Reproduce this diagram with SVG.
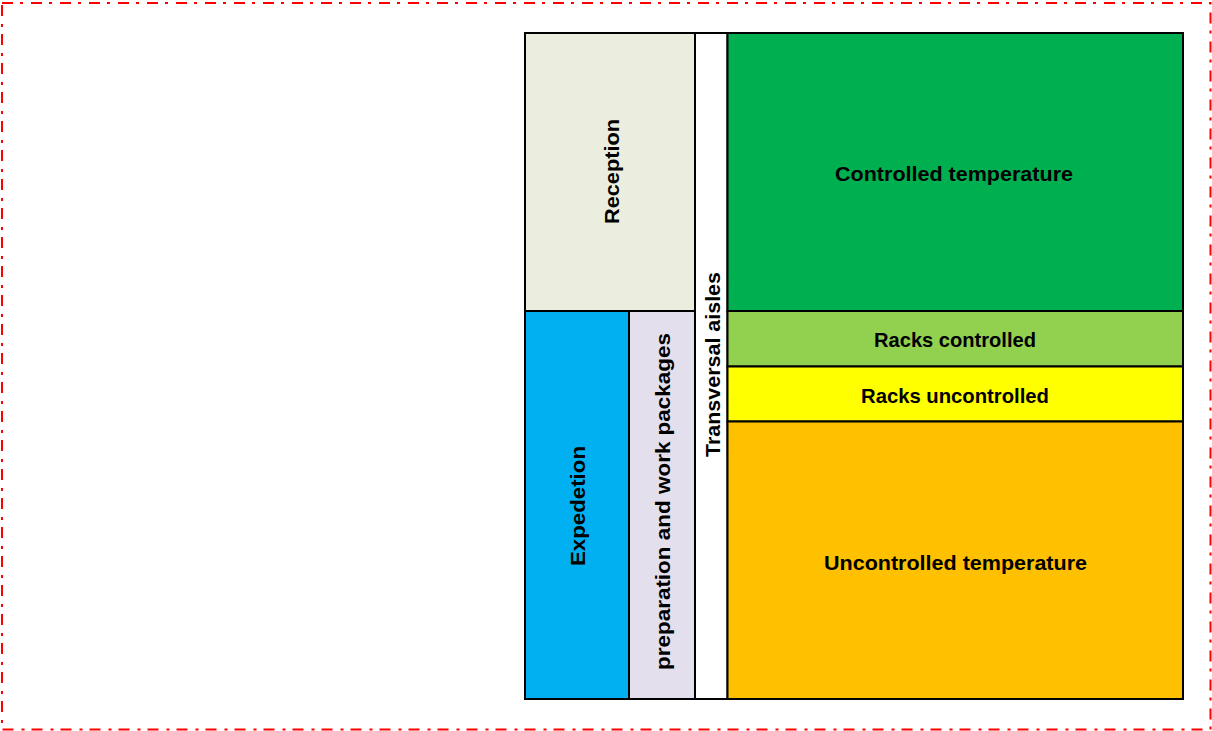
<svg xmlns="http://www.w3.org/2000/svg" width="1212" height="731" viewBox="0 0 1212 731">
<style>
.cell{stroke:#000;stroke-width:2}
.t{font-family:"Liberation Sans",Arial,sans-serif;font-weight:bold;font-size:20.5px;fill:#000;text-anchor:middle;dominant-baseline:central}
</style>
<rect x="0" y="0" width="1212" height="731" fill="#fff"/>
<rect x="2" y="3" width="1208.5" height="726.5" fill="none" stroke="#ff0000" stroke-width="2" stroke-dasharray="11 7 3 8"/>
<g id="reception"><rect class="cell" x="525" y="33" width="170" height="278" fill="#EBEEDE"/><text class="t" transform="translate(611,171.5) rotate(-90)" textLength="105" lengthAdjust="spacingAndGlyphs">Reception</text></g>
<g id="expedetion"><rect class="cell" x="525" y="311" width="104" height="388" fill="#00B0F0"/><text class="t" transform="translate(577,506) rotate(-90)" textLength="120" lengthAdjust="spacingAndGlyphs">Expedetion</text></g>
<g id="preparation"><rect class="cell" x="629" y="311" width="66" height="388" fill="#E4DFEC"/><text class="t" transform="translate(662,501.5) rotate(-90)" textLength="337" lengthAdjust="spacingAndGlyphs">preparation and work packages</text></g>
<g id="aisles"><rect class="cell" x="695" y="33" width="32.5" height="666" fill="#fff"/><text class="t" transform="translate(712,364.5) rotate(-90)" textLength="185" lengthAdjust="spacingAndGlyphs">Transversal aisles</text></g>
<g id="controlled"><rect class="cell" x="727.5" y="33" width="455.5" height="278" fill="#00B050"/><text class="t" x="954" y="173" textLength="238" lengthAdjust="spacingAndGlyphs">Controlled temperature</text></g>
<g id="racks-controlled"><rect class="cell" x="727.5" y="311" width="455.5" height="55.5" fill="#92D050"/><text class="t" x="955" y="339" textLength="162" lengthAdjust="spacingAndGlyphs">Racks controlled</text></g>
<g id="racks-uncontrolled"><rect class="cell" x="727.5" y="366.5" width="455.5" height="55" fill="#FFFF00"/><text class="t" x="955" y="395" textLength="188" lengthAdjust="spacingAndGlyphs">Racks uncontrolled</text></g>
<g id="uncontrolled"><rect class="cell" x="727.5" y="421.5" width="455.5" height="277.5" fill="#FFC000"/><text class="t" x="955.5" y="562" textLength="263" lengthAdjust="spacingAndGlyphs">Uncontrolled temperature</text></g>
<g id="connectors"></g>
</svg>
